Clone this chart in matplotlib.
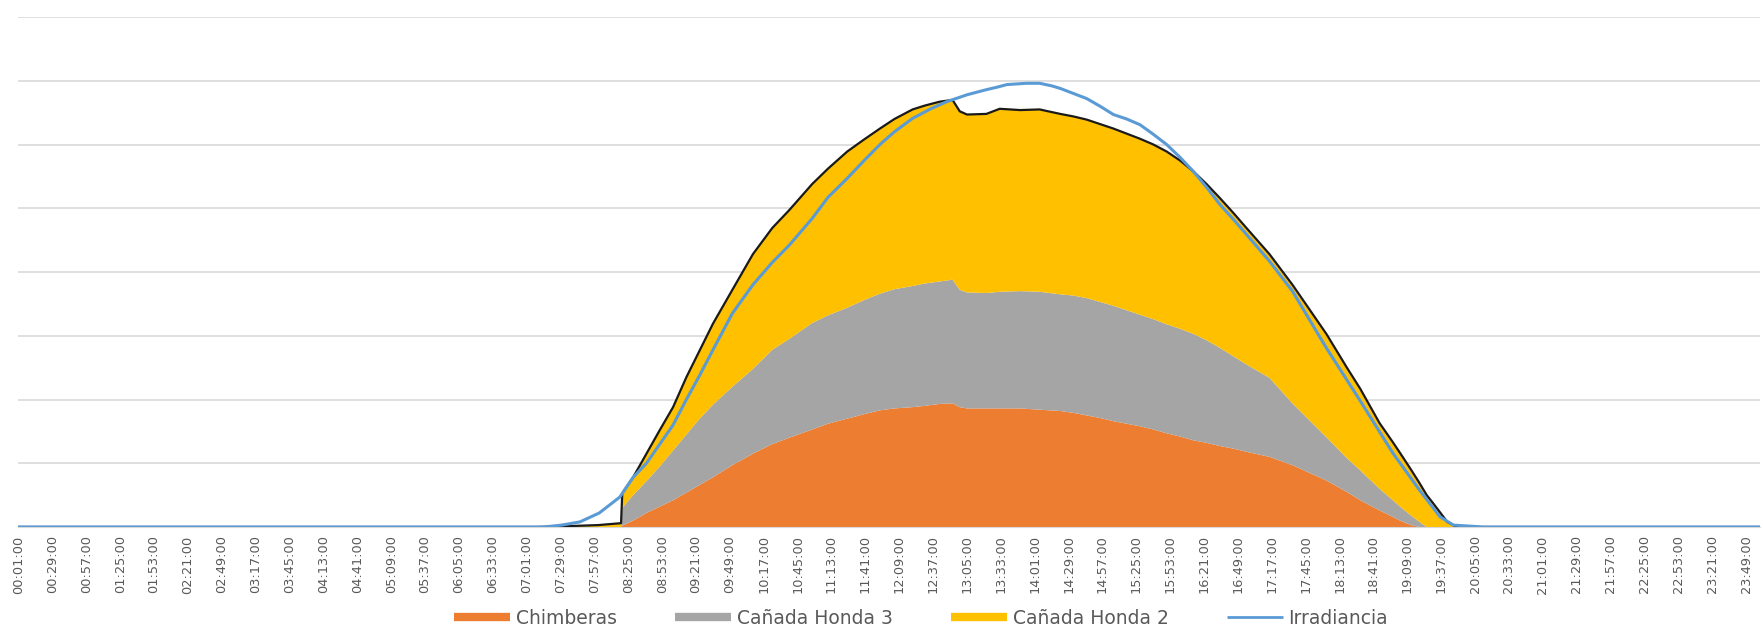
import numpy as np
import matplotlib
matplotlib.use("Agg")
import matplotlib.pyplot as plt
from matplotlib.lines import Line2D

# generation per plant, minute-of-day samples
pv_times = ["00:01", "07:10", "07:45", "08:00", "08:19", "08:20", "08:29", "08:40", "08:51",
            "09:02", "09:13", "09:24", "09:35", "09:51", "10:08", "10:24", "10:38", "10:57",
            "11:10", "11:26", "11:40", "11:53", "12:05", "12:20", "12:30", "12:42", "12:53",
            "12:59", "13:05", "13:21", "13:32", "13:49", "14:05", "14:22", "14:33", "14:44",
            "14:55", "15:06", "15:17", "15:28", "15:39", "15:50", "16:01", "16:12", "16:23",
            "16:34", "16:45", "16:56", "17:15", "17:34", "18:02", "18:19", "18:30", "18:46",
            "18:57", "19:03", "19:12", "19:19", "19:25", "19:30", "19:42", "19:50", "24:00"]

chimberas = [0, 0, 0, 0, 0, 0.02, 0.10, 0.22, 0.32,
             0.42, 0.54, 0.66, 0.78, 0.97, 1.15, 1.30, 1.40, 1.53,
             1.62, 1.70, 1.77, 1.83, 1.86, 1.88, 1.90, 1.93, 1.94,
             1.88, 1.86, 1.86, 1.86, 1.86, 1.84, 1.82, 1.79, 1.75,
             1.71, 1.66, 1.62, 1.58, 1.53, 1.47, 1.42, 1.36, 1.32,
             1.27, 1.23, 1.18, 1.10, 0.97, 0.73, 0.55, 0.42, 0.26,
             0.16, 0.10, 0.03, 0, 0, 0, 0, 0, 0]

canada_honda_3 = [0, 0, 0, 0, 0, 0.28, 0.40, 0.50, 0.63,
                  0.78, 0.91, 1.04, 1.14, 1.23, 1.33, 1.48, 1.55, 1.67,
                  1.70, 1.74, 1.79, 1.83, 1.87, 1.90, 1.92, 1.92, 1.94,
                  1.84, 1.82, 1.81, 1.83, 1.84, 1.85, 1.83, 1.84, 1.84,
                  1.82, 1.81, 1.78, 1.75, 1.73, 1.71, 1.69, 1.67, 1.61,
                  1.54, 1.45, 1.37, 1.24, 0.97, 0.68, 0.53, 0.47, 0.34,
                  0.26, 0.22, 0.15, 0.08, 0, 0, 0, 0, 0]

canada_honda_2 = [0, 0, 0.02, 0.03, 0.06, 0.23, 0.28, 0.43, 0.57,
                  0.68, 0.90, 1.07, 1.27, 1.52, 1.80, 1.91, 2.02, 2.18,
                  2.30, 2.45, 2.52, 2.59, 2.67, 2.77, 2.79, 2.82, 2.82,
                  2.80, 2.79, 2.81, 2.87, 2.84, 2.86, 2.83, 2.81, 2.80,
                  2.79, 2.78, 2.77, 2.76, 2.74, 2.71, 2.64, 2.55, 2.45,
                  2.35, 2.25, 2.14, 1.94, 1.86, 1.62, 1.42, 1.28, 1.03,
                  0.91, 0.84, 0.72, 0.61, 0.50, 0.38, 0.08, 0, 0]

irr_times = ["00:01", "07:15", "07:30", "07:45", "08:01", "08:18", "08:29", "08:40", "08:51",
             "09:02", "09:13", "09:24", "09:35", "09:51", "10:08", "10:24", "10:38", "10:57",
             "11:10", "11:26", "11:40", "11:53", "12:05", "12:20", "12:35", "12:48", "13:05",
             "13:21", "13:30", "13:38", "13:54", "14:05", "14:15", "14:22", "14:33", "14:44",
             "14:55", "15:06", "15:17", "15:28", "15:39", "15:50", "16:01", "16:12", "16:23",
             "16:34", "16:45", "16:56", "17:15", "17:34", "18:02", "18:30", "18:57", "19:19",
             "19:36", "19:47", "20:12", "24:00"]

irradiancia = [0, 0, 0.03, 0.08, 0.22, 0.47, 0.78, 1.0, 1.3,
               1.6, 2.0, 2.38, 2.78, 3.35, 3.8, 4.15, 4.42, 4.84,
               5.17, 5.47, 5.75, 6.0, 6.2, 6.41, 6.56, 6.67, 6.78,
               6.86, 6.9, 6.94, 6.96, 6.96, 6.92, 6.88, 6.8, 6.72,
               6.6, 6.47, 6.4, 6.31, 6.16, 6.0, 5.8, 5.58, 5.33,
               5.06, 4.83, 4.59, 4.17, 3.70, 2.81, 1.98, 1.16, 0.58,
               0.16, 0.03, 0, 0]

series_names = ["Chimberas", "Cañada Honda 3", "Cañada Honda 2", "Irradiancia"]
colors = ["#ED7D31", "#A5A5A5", "#FFC000", "#5B9BD5"]


def to_minute(t):
    h, m = t.split(":")
    return int(h) * 60 + int(m)


x_pv = np.array([to_minute(t) for t in pv_times])
x_irr = np.array([to_minute(t) for t in irr_times])

# category labels every 28 minutes starting at 00:01
tick_pos = np.arange(1, 1441, 28)
tick_lbl = ["%02d:%02d:00" % (p // 60, p % 60) for p in tick_pos]

fig = plt.figure(figsize=(17.63, 6.26), dpi=100)
ax = fig.add_axes([18 / 1763, 99 / 626, 1742 / 1763, 510 / 626])

ax.stackplot(x_pv, chimberas, canada_honda_3, canada_honda_2,
             colors=colors[:3], linewidth=0, zorder=2)
total = np.array(chimberas) + np.array(canada_honda_3) + np.array(canada_honda_2)
ax.plot(x_pv, total, color="#1A1A1A", lw=1.6, zorder=3)
ax.plot(x_irr, irradiancia, color=colors[3], lw=2.2, zorder=4)

ax.set_xlim(0.5, 1440.5)
ax.set_ylim(0, 8)
ax.set_yticks(np.arange(0, 9, 1))
ax.set_yticklabels([])
ax.grid(axis="y", color="#D9D9D9", lw=1.2, zorder=0)
ax.set_axisbelow(True)
ax.tick_params(axis="y", length=0)

ax.set_xticks(tick_pos)
ax.set_xticklabels(tick_lbl, rotation=90, fontsize=9.3, color="#595959")
ax.tick_params(axis="x", length=0, pad=6)

for s in ["top", "right", "left"]:
    ax.spines[s].set_visible(False)
ax.spines["bottom"].set_color("#D9D9D9")

handles = [Line2D([], [], color=colors[0], lw=6, solid_capstyle="butt"),
           Line2D([], [], color=colors[1], lw=6, solid_capstyle="butt"),
           Line2D([], [], color=colors[2], lw=6, solid_capstyle="butt"),
           Line2D([], [], color=colors[3], lw=2, solid_capstyle="butt")]
fig.legend(handles, series_names, loc="center", bbox_to_anchor=(0.5224, 0.012), ncol=4,
           frameon=False, fontsize=13.5, labelcolor="#595959", handlelength=3.0,
           handletextpad=0.3, columnspacing=3.1, borderpad=0)

fig.savefig("out.png", dpi=100, facecolor="white")
